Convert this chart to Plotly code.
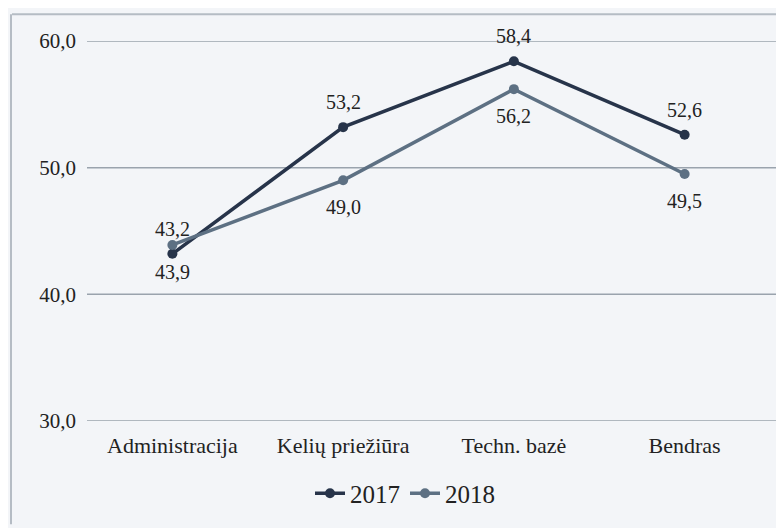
import plotly.graph_objects as go

categories = ["Administracija", "Kelių priežiūra", "Techn. bazė", "Bendras"]
values_2017 = [43.2, 53.2, 58.4, 52.6]
values_2018 = [43.9, 49.0, 56.2, 49.5]
y_ticks = [30, 40, 50, 60]

# The browser page has an 8px body margin, so the figure is drawn 8px smaller
OFF = 8
W, H = 784 - OFF, 528 - OFF
L, R, T, B = 87 - OFF, 14, 41 - OFF, 104
pw, ph = W - L - R, H - T - B

def px(x):  # reference-pixel x -> paper
    return (x - OFF - L) / pw

def py(y):  # reference-pixel y -> paper
    return (H - B - (y - OFF)) / ph

def fmt(v):
    return f"{v:.1f}".replace(".", ",")

c17, c18 = "#27344a", "#5d7083"
font_fam = "'Liberation Serif', 'DejaVu Serif', serif"

fig = go.Figure()
fig.add_trace(go.Scatter(
    x=categories, y=values_2017, name="2017", mode="lines+markers",
    line=dict(color=c17, width=3.5), marker=dict(size=10, color=c17),
))
fig.add_trace(go.Scatter(
    x=categories, y=values_2018, name="2018", mode="lines+markers",
    line=dict(color=c18, width=3.5), marker=dict(size=10, color=c18),
))

annotations = []
for c, v in zip(categories, values_2017):
    annotations.append(dict(x=c, y=v, xref="x", yref="y", text=fmt(v), showarrow=False,
                            yshift=25, font=dict(family=font_fam, size=20, color="#222")))
for c, v in zip(categories, values_2018):
    annotations.append(dict(x=c, y=v, xref="x", yref="y", text=fmt(v), showarrow=False,
                            yshift=-27, font=dict(family=font_fam, size=20, color="#222")))

shapes = [
    dict(type="line", xref="paper", yref="y", x0=0, x1=px(776), y0=t, y1=t,
         line=dict(color="#9aa3ad", width=1.5), layer="below")
    for t in y_ticks
]
shapes += [
    dict(type="line", xref="paper", yref="paper", x0=px(12), x1=px(784), y0=py(14), y1=py(14),
         line=dict(color="#b5bcc4", width=2)),
    dict(type="line", xref="paper", yref="paper", x0=px(11), x1=px(11), y0=py(14), y1=py(528),
         line=dict(color="#b5bcc4", width=2)),
]

fig.update_layout(
    width=W, height=H,
    margin=dict(l=L, r=R, t=T, b=B),
    paper_bgcolor="#f3f5f8", plot_bgcolor="#f3f5f8",
    separators=", ",
    font=dict(family=font_fam, size=20, color="#222"),
    showlegend=True,
    legend=dict(orientation="h", x=px(405), xanchor="center", y=py(497), yanchor="middle",
                font=dict(family=font_fam, size=25), bgcolor="rgba(0,0,0,0)"),
    xaxis=dict(range=[-0.5, 3.5], showgrid=False, zeroline=False, showline=False, ticks="",
               tickfont=dict(family=font_fam, size=22), ticklabelstandoff=9, automargin=False),
    yaxis=dict(range=[30, 60], tickvals=y_ticks, tickformat=".1f", showgrid=False,
               zeroline=False, showline=False, automargin=False,
               tickfont=dict(family=font_fam, size=21), ticklabelstandoff=10),
    annotations=annotations,
    shapes=shapes,
)

fig.write_html("out.html")
